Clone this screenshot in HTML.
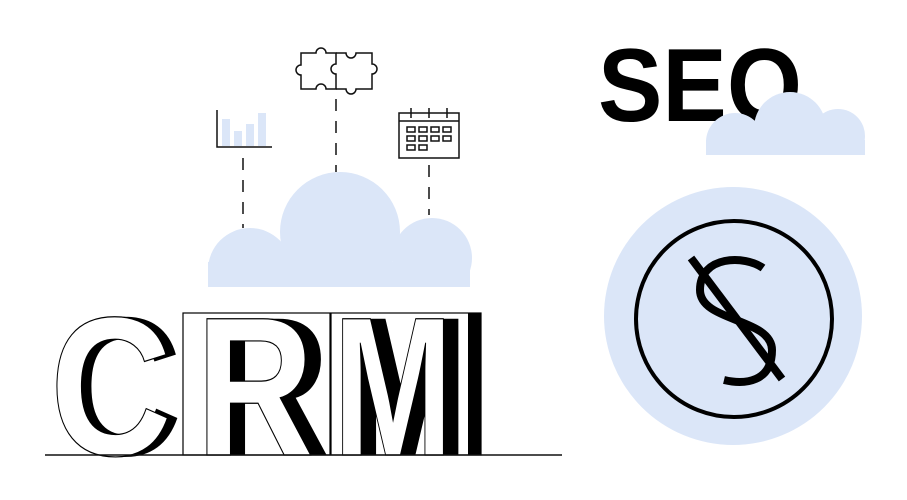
<!DOCTYPE html>
<html><head><meta charset="utf-8"><style>html,body{margin:0;padding:0;background:#fff;width:907px;height:500px;overflow:hidden}</style></head>
<body>
<svg width="907" height="500" viewBox="0 0 907 500" xmlns="http://www.w3.org/2000/svg">
<defs>
<clipPath id="c1"><rect x="0" y="0" width="907" height="287"/></clipPath>
<clipPath id="c2"><rect x="0" y="0" width="907" height="155"/></clipPath>
</defs>
<g fill="#dbe6f8" clip-path="url(#c1)">
<circle cx="340" cy="232" r="60"/>
<circle cx="250" cy="270" r="42"/>
<circle cx="432" cy="258" r="40"/>
<rect x="208" y="262" width="262" height="30"/>
</g>
<g stroke="#111" stroke-width="1.5" stroke-dasharray="12,10">
<line x1="243" y1="158" x2="243" y2="228"/>
<line x1="336" y1="99" x2="336" y2="172"/>
<line x1="429" y1="165" x2="429" y2="215"/>
</g>
<g fill="#dbe6f8">
<rect x="222" y="119" width="8" height="27"/>
<rect x="234" y="131" width="8" height="15"/>
<rect x="246" y="124" width="8" height="22"/>
<rect x="258" y="113" width="8" height="33"/>
</g>
<path d="M217 110 V147 H272" fill="none" stroke="#111" stroke-width="1.5"/>
<g fill="none" stroke="#111" stroke-width="1.5">
<path d="M301 53 H316 a5 5 0 1 1 10 0 H336 V64 a5 5 0 1 0 0 10 V89 H326 a5 5 0 1 0 -10 0 H301 V75 a5 5 0 1 1 0 -10 Z"/>
<path d="M336 53 H346 a5 5 0 1 0 10 0 H372 V64 a5 5 0 1 1 0 10 V89 H356 a5 5 0 1 1 -10 0 H336"/>
</g>
<g fill="none" stroke="#111" stroke-width="1.5">
<rect x="399" y="113" width="60" height="45"/>
<line x1="399" y1="121" x2="459" y2="121"/>
<line x1="411" y1="108" x2="411" y2="118"/><line x1="429" y1="108" x2="429" y2="118"/><line x1="447" y1="108" x2="447" y2="118"/>
<rect x="407" y="127" width="8" height="5"/><rect x="419" y="127" width="8" height="5"/><rect x="431" y="127" width="8" height="5"/><rect x="443" y="127" width="8" height="5"/>
<rect x="407" y="136" width="8" height="5"/><rect x="419" y="136" width="8" height="5"/><rect x="431" y="136" width="8" height="5"/><rect x="443" y="136" width="8" height="5"/>
<rect x="407" y="145" width="8" height="5"/><rect x="419" y="145" width="8" height="5"/>
</g>
<rect x="183" y="313" width="147" height="142" fill="#fff" stroke="#000" stroke-width="1.2"/>
<rect x="331" y="313" width="150" height="142" fill="#fff" stroke="#000" stroke-width="1.2"/>
<rect x="468" y="313" width="13" height="142" fill="#000"/>
<g font-family="Liberation Sans, sans-serif" font-weight="bold" font-size="198">
<text x="60" y="455" fill="#000" textLength="122" lengthAdjust="spacingAndGlyphs">C</text>
<text x="210" y="455" fill="#000" textLength="120" lengthAdjust="spacingAndGlyphs">R</text>
<text x="348" y="455" fill="#000" textLength="120" lengthAdjust="spacingAndGlyphs">M</text>
<text x="50" y="455" fill="#fff" stroke="#000" stroke-width="1.2" textLength="122" lengthAdjust="spacingAndGlyphs">C</text>
<text x="196" y="455" fill="#fff" stroke="#000" stroke-width="1.2" textLength="118" lengthAdjust="spacingAndGlyphs">R</text>
<text x="333" y="455" fill="#fff" stroke="#000" stroke-width="1.2" textLength="120" lengthAdjust="spacingAndGlyphs">M</text>
</g>
<line x1="45" y1="455" x2="562" y2="455" stroke="#111" stroke-width="1.5"/>
<text x="598" y="121" font-family="Liberation Sans, sans-serif" font-weight="bold" font-size="104" fill="#000" textLength="204" lengthAdjust="spacingAndGlyphs">SEO</text>
<g fill="#dbe6f8" clip-path="url(#c2)">
<circle cx="790" cy="128" r="36"/>
<circle cx="735" cy="142" r="29"/>
<circle cx="838" cy="136" r="27"/>
<rect x="706" y="140" width="159" height="20"/>
</g>
<circle cx="733" cy="316" r="129" fill="#dbe6f8"/>
<circle cx="734" cy="319" r="98" fill="none" stroke="#000" stroke-width="4"/>
<path d="M763 268 C745 255 700 255 700 290 C700 322 772 318 772 350 C772 382 745 385 724 380" fill="none" stroke="#000" stroke-width="8"/>
<line x1="691" y1="258" x2="782" y2="379" stroke="#000" stroke-width="8"/>
</svg>
</body></html>
